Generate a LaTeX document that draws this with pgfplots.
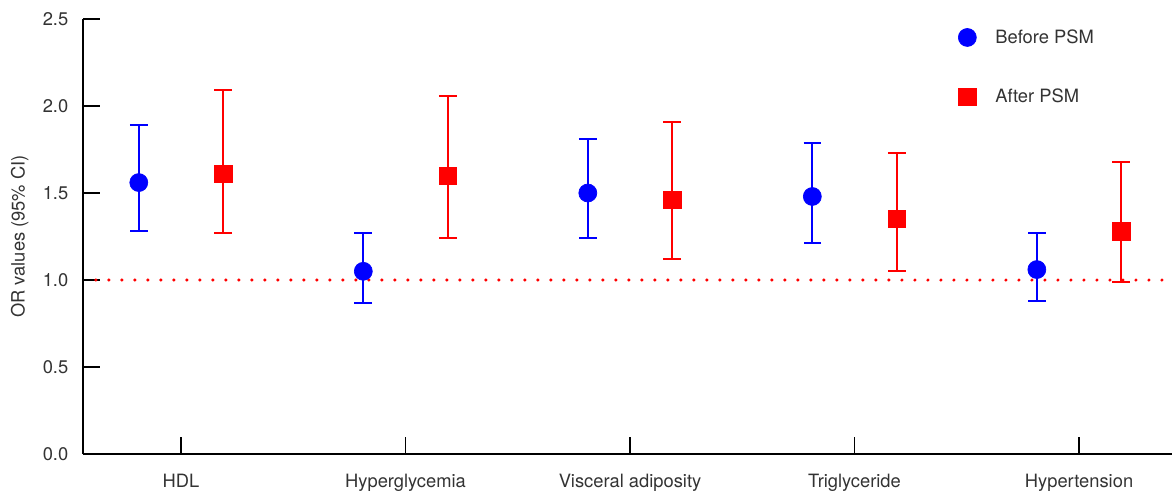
\documentclass[border=0pt]{standalone}
\usepackage{fontspec}
\setmainfont{TeX Gyre Heros}
\usepackage{pgfplots}
\usepackage{pgfplotstable}
\pgfplotsset{compat=1.18}

\definecolor{txt}{HTML}{333333}
\definecolor{ptblue}{RGB}{0,0,255}
\definecolor{ptred}{RGB}{255,0,0}

% x: category position, y: OR, ep/em: distance to upper/lower CI bound
\pgfplotstableread{
x      y    ep   em
-0.188 1.56 0.33 0.28
0.812  1.05 0.22 0.18
1.812  1.50 0.31 0.26
2.812  1.48 0.31 0.27
3.812  1.06 0.21 0.18
}\before
\pgfplotstableread{
x      y    ep   em
0.188  1.61 0.48 0.34
1.188  1.60 0.46 0.36
2.188  1.46 0.45 0.34
3.188  1.35 0.38 0.30
4.188  1.28 0.40 0.29
}\after

\begin{document}
\begin{tikzpicture}
\path (-49.8pt,-24pt) rectangle (654.6pt,272.4pt);
\begin{axis}[
  scale only axis,
  width=653.4pt, height=261pt,
  xmin=-0.4365, xmax=4.414,
  ymin=0, ymax=2.5,
  axis x line*=bottom, axis y line*=left,
  axis line style={line width=1.1pt, black},
  every tick/.style={line width=1.1pt, black},
  tick align=inside,
  major tick length=10pt,
  xtick={0,1,2,3,4},
  xticklabels={HDL,Hyperglycemia,Visceral adiposity,Triglyceride,Hypertension},
  ytick={0,0.5,1,1.5,2,2.5},
  /pgf/number format/fixed,
  /pgf/number format/fixed zerofill,
  /pgf/number format/precision=1,
  /pgf/number format/assume math mode=true,
  font=\fontsize{11}{13}\selectfont,
  tick label style={text=txt},
  xticklabel style={yshift=-8.5pt},
  yticklabel style={xshift=-5.3pt},
  ylabel={OR values (95\% CI)},
  ylabel style={at={(axis description cs:-0.058,0.5)}, anchor=center, text=txt},
  clip=false,
  legend cell align=left,
  legend style={draw=none, fill=none, at={(rel axis cs:0.8035,0.979)}, anchor=north west,
    row sep=25.2pt, column sep=11.4pt, inner sep=0pt,
    nodes={inner sep=0pt, text=txt}, font=\fontsize{11}{13}\selectfont},
  legend image code/.code={\draw[#1] plot coordinates {(0pt,0pt)};},
]
\addplot[ptred, line width=2pt, dash pattern=on 0pt off 7.8pt, line cap=round, forget plot]
  coordinates {(-0.379,1) (4.383,1)};
\addplot[only marks, mark=*, mark size=5.4pt, color=ptblue,
  error bars/.cd, y dir=both, y explicit,
  error bar style={line width=1.2pt, ptblue},
  error mark options={rotate=90, mark size=5.3pt, line width=1.2pt, ptblue}]
  table[x=x, y=y, y error plus=ep, y error minus=em] {\before};
\addlegendentry{Before PSM}
\addplot[only marks, mark=square*, mark size=5.2pt, color=ptred,
  error bars/.cd, y dir=both, y explicit,
  error bar style={line width=1.2pt, ptred},
  error mark options={rotate=90, mark size=5.3pt, line width=1.2pt, ptred}]
  table[x=x, y=y, y error plus=ep, y error minus=em] {\after};
\addlegendentry{After PSM}
\end{axis}
\end{tikzpicture}
\end{document}
